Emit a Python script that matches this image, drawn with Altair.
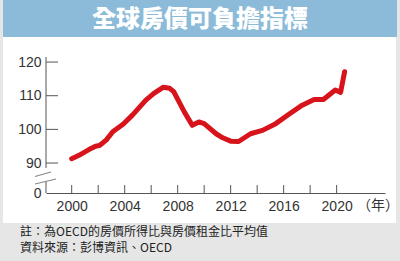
import altair as alt
import pandas as pd

# ---- data ----
years = [2000.0, 2000.55, 2001.3, 2001.8, 2002.1, 2002.6, 2003.1, 2003.9, 2004.6,
         2005.6, 2006.2, 2006.9, 2007.4, 2007.7, 2008.5, 2009.1, 2009.6, 2010.0,
         2010.9, 2011.4, 2012.0, 2012.6, 2013.5, 2014.4, 2015.4, 2016.4, 2017.4,
         2018.3, 2019.0, 2019.9, 2020.3, 2020.6]
values = [91.3, 92.3, 94.0, 95.0, 95.2, 96.8, 99.3, 101.6, 104.3,
          108.7, 110.7, 112.5, 112.2, 111.2, 105.2, 101.2, 102.2, 101.7,
          98.7, 97.5, 96.5, 96.4, 98.7, 99.7, 101.7, 104.5, 107.2,
          108.9, 108.9, 111.7, 111.0, 117.1]
x_label_years = [2000, 2004, 2008, 2012, 2016, 2020]
x_tick_years = [2000, 2002, 2004, 2006, 2008, 2010, 2012, 2014, 2016, 2018, 2020]
y_tick_values = [90, 100, 110, 120]
title_text = "全球房價可負擔指標"
note_line1 = "註：為OECD的房價所得比與房價租金比平均值"
note_line2 = "資料來源：彭博資訊、OECD"
unit_text = "（年）"

W, H = 339, 136
XDOM = [1998.06, 2023.65]
YDOM = [81.1, 121.5]
FONT = "Liberation Sans"
CJK = "Noto Sans CJK TC"
AX = "#555555"

xs = alt.Scale(domain=XDOM, nice=False, zero=False)
ys = alt.Scale(domain=YDOM, nice=False, zero=False)

x_axis = alt.Axis(values=x_label_years, format="d", title=None, grid=False,
                  tickSize=0, labelPadding=6, domainColor=AX, zindex=1,
                  labelOverlap=False,
                  labelFont=FONT, labelFontSize=14, labelColor="#333")
y_axis = alt.Axis(values=[81.1] + y_tick_values, title=None, grid=False,
                  domain=False, tickSize=0, labelPadding=5, zindex=1,
                  labelOverlap=False, labelBound=False,
                  labelExpr="datum.value < 85 ? '0' : datum.label",
                  labelFont=FONT, labelFontSize=14, labelColor="#333")

line_df = pd.DataFrame({"year": years, "value": values})
one = pd.DataFrame({"k": [0]})

banner = alt.Chart(one).mark_rect(color="#8bbbd8").encode(
    x=alt.value(-43), x2=alt.value(351), y=alt.value(-57), y2=alt.value(-20))
panel = alt.Chart(one).mark_rect(color="white").encode(
    x=alt.value(-43), x2=alt.value(350), y=alt.value(-20), y2=alt.value(166))
title = alt.Chart(one).mark_text(
    text=title_text, font=CJK, fontSize=24, fontWeight=900, color="white",
    align="center", baseline="middle").encode(x=alt.value(154), y=alt.value(-37))

line = alt.Chart(line_df).mark_line(
    color="#d7141c", strokeWidth=5, strokeCap="round", strokeJoin="round").encode(
    x=alt.X("year:Q", scale=xs, axis=x_axis),
    y=alt.Y("value:Q", scale=ys, axis=y_axis))

yticks = alt.Chart(pd.DataFrame({"v": y_tick_values})).mark_rule(color=AX).encode(
    y=alt.Y("v:Q", scale=ys, axis=y_axis), x=alt.value(0), x2=alt.value(12))
xticks = alt.Chart(pd.DataFrame({"t": x_tick_years})).mark_rule(color=AX).encode(
    x=alt.X("t:Q", scale=xs, axis=x_axis), y=alt.value(136), y2=alt.value(128))

yseg1 = alt.Chart(one).mark_rule(color=AX).encode(
    x=alt.value(0), y=alt.value(0), y2=alt.value(111))
yseg2 = alt.Chart(one).mark_rule(color=AX).encode(
    x=alt.value(0), y=alt.value(124), y2=alt.value(136))
slash1 = alt.Chart(one).mark_rule(color="#888", strokeWidth=1.2).encode(
    x=alt.value(-11), x2=alt.value(5), y=alt.value(119.5), y2=alt.value(115))
slash2 = alt.Chart(one).mark_rule(color="#888", strokeWidth=1.2).encode(
    x=alt.value(-11), x2=alt.value(10), y=alt.value(127), y2=alt.value(122))

unit = alt.Chart(one).mark_text(
    text=unit_text, font=CJK, fontSize=14, color="#333", align="left",
    baseline="middle").encode(x=alt.value(311), y=alt.value(149))

note1 = alt.Chart(one).mark_text(
    text=note_line1, font=CJK, fontSize=12, color="#222", align="left",
    baseline="middle").encode(x=alt.value(-26), y=alt.value(175))
note2 = alt.Chart(one).mark_text(
    text=note_line2, font=CJK, fontSize=12, color="#222", align="left",
    baseline="middle").encode(x=alt.value(-26), y=alt.value(191))

chart = alt.layer(
    banner, panel, title, yticks, xticks, yseg1, yseg2, slash1, slash2,
    line, unit, note1, note2
).properties(
    width=W, height=H,
    autosize=alt.AutoSizeParams(type="none"),
    padding={"left": 46, "top": 57, "right": 15, "bottom": 68},
    background="#e6e6e6",
).configure_view(stroke=None)

chart.save("out.html", embed_options={"renderer": "svg", "actions": False})
